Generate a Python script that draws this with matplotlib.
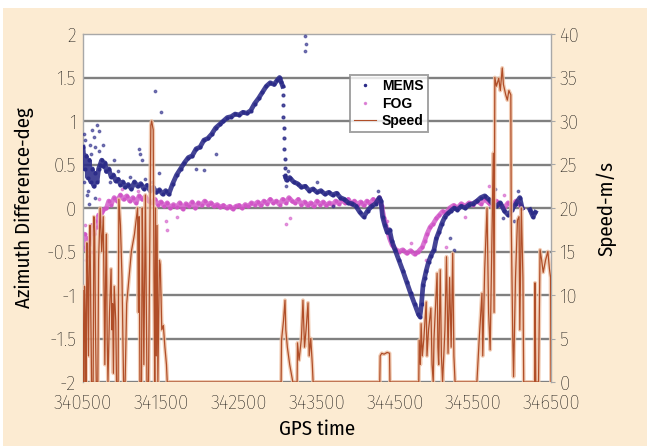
import matplotlib
matplotlib.use("Agg")
import matplotlib.pyplot as plt
from matplotlib.lines import Line2D
from matplotlib.patches import Rectangle

plt.rcParams['font.family'] = ['Fira Sans Condensed', 'Roboto Condensed', 'DejaVu Sans']
plt.rcParams['font.weight'] = 'light'

# ---- data -------------------------------------------------------------
mems_t = [340500, 340520, 340540, 340560, 340580, 340600, 340620, 340640, 340660, 340680,
          340700, 340720, 340740, 340760, 340780, 340800, 340830, 340860, 340890, 340920,
          340950, 340980, 341010, 341040, 341080, 341120, 341160, 341200, 341240, 341280,
          341320, 341360, 341400, 341440, 341480, 341520, 341560, 341600, 341650, 341700,
          341750, 341800, 341850, 341900, 341950, 342000, 342050, 342100, 342150, 342200,
          342250, 342300, 342350, 342400, 342450, 342500, 342550, 342600, 342650, 342700,
          342750, 342800, 342850, 342900, 342950, 342990, 343020, 343040, 343060]
mems_v = [0.70, 0.45, 0.60, 0.35, 0.55, 0.30, 0.45, 0.25, 0.40, 0.30,
          0.45, 0.50, 0.55, 0.48, 0.52, 0.42, 0.45, 0.36, 0.38, 0.31,
          0.33, 0.27, 0.30, 0.24, 0.27, 0.22, 0.30, 0.25, 0.28, 0.22,
          0.26, 0.20, 0.24, 0.18, 0.21, 0.16, 0.20, 0.16, 0.28, 0.38,
          0.45, 0.52, 0.58, 0.60, 0.68, 0.70, 0.78, 0.80, 0.85, 0.92,
          0.96, 1.00, 1.04, 1.05, 1.08, 1.07, 1.10, 1.09, 1.12, 1.20,
          1.26, 1.33, 1.40, 1.44, 1.42, 1.47, 1.50, 1.45, 1.40]

# the fast reset: sparse samples between the peak and the lower track
mems_drop_t = [343060, 343064, 343068, 343072, 343076, 343080, 343084, 343088, 343092]
mems_drop_v = [1.30, 1.18, 1.05, 0.92, 0.80, 0.68, 0.56, 0.46, 0.38]

mems_b_t = [343095, 343110, 343150, 343200, 343250, 343300, 343350, 343400, 343450,
            343500, 343550, 343600, 343650, 343700, 343750, 343800, 343850, 343900, 343950,
            344000, 344050, 344100, 344150, 344200, 344250, 344300, 344320, 344340, 344370,
            344400, 344430, 344460, 344500, 344550, 344600, 344650, 344700, 344750, 344800,
            344820, 344840, 344860, 344880, 344900, 344930, 344960, 345000, 345030, 345060,
            345100, 345140, 345180, 345220, 345260, 345300, 345350, 345400, 345450, 345500,
            345550, 345600, 345650, 345700, 345750, 345800, 345850, 345900, 345950, 346000,
            346050, 346100, 346130]
mems_b_v = [0.36, 0.32, 0.35, 0.30, 0.28, 0.24, 0.25, 0.20, 0.22,
            0.18, 0.20, 0.16, 0.18, 0.15, 0.17, 0.12, 0.10, 0.06, 0.05,
            0.02, -0.05, -0.10, -0.03, 0.02, 0.05, 0.12, 0.08, -0.10, -0.20,
            -0.28, -0.25, -0.38, -0.48, -0.60, -0.72, -0.85, -0.98, -1.10, -1.22,
            -1.25, -1.10, -0.88, -0.80, -0.72, -0.62, -0.55, -0.48, -0.35, -0.28,
            -0.18, -0.10, -0.06, -0.03, 0.00, -0.02, 0.02, 0.00, 0.04, 0.05,
            0.08, 0.12, 0.14, 0.10, 0.05, 0.02, 0.06, -0.03, -0.08, -0.02,
            0.05, 0.12, 0.00]

# short MEMS run after the data gap near the end
mems_tail_t = [346230, 346250, 346270, 346300]
mems_tail_v = [-0.02, -0.06, -0.10, -0.05]

# isolated MEMS samples away from the main track
mems_out_t = [340510, 340530, 340560, 340580, 340600, 340620, 340640, 340660, 340680, 340700,
              340760, 340900, 341220, 341230, 341250, 341420, 341500, 341480, 341950, 342050,
              342200, 343350, 343355, 343350, 343700, 345200, 345250,
              340515, 340545, 340590, 340650, 340710, 340850, 340950, 341100, 341300, 341380,
              343100, 343130, 343500, 344280, 345780, 345880, 346020, 346080]
mems_out_v = [0.85, 0.78, 0.20, 0.05, 0.62, 0.90, 0.82, 0.70, 0.95, 0.88,
              0.72, 0.55, 0.68, 0.62, 0.55, 1.35, 1.10, 0.40, 0.45, 0.44,
              0.62, 1.98, 1.88, 1.80, 0.02, -0.35, -0.48,
              0.30, 0.15, 0.72, 0.12, 0.65, 0.30, 0.42, 0.36, 0.33, 0.30,
              0.25, 0.42, 0.30, 0.20, 0.22, -0.12, -0.15, 0.20]

fog_t = [340500, 340520, 340540, 340560, 340580, 340600, 340620, 340640, 340660, 340680,
         340700, 340720, 340740, 340760, 340800, 340830, 340860, 340900, 340940, 340980,
         341020, 341060, 341100, 341140, 341180, 341220, 341260, 341300, 341340, 341380,
         341420, 341460, 341500, 341540, 341580, 341620, 341660, 341700, 341740, 341780,
         341820, 341860, 341900, 341940, 341980, 342020, 342060, 342100, 342140, 342180,
         342220, 342260, 342300, 342340, 342380, 342420, 342460, 342500, 342540, 342580,
         342620, 342660, 342700, 342740, 342780, 342820, 342860, 342900, 342940, 342980,
         343020, 343060, 343100, 343140, 343180, 343220, 343260, 343300, 343340, 343380,
         343420, 343460, 343500, 343540, 343580, 343620, 343660, 343700, 343740, 343780,
         343820, 343860, 343900, 343940, 343980, 344020, 344060, 344100, 344140, 344180,
         344220, 344260, 344300, 344330, 344360, 344400, 344430, 344460, 344500, 344550,
         344600, 344650, 344700, 344750, 344800, 344850, 344880, 344910, 344950, 344990,
         345030, 345070, 345110, 345150, 345200, 345250, 345300, 345350, 345400, 345450,
         345500, 345550, 345600, 345650, 345700, 345750, 345800, 345850, 345900, 345950,
         346000, 346050, 346100, 346130]
fog_v = [-0.45, -0.30, -0.48, -0.35, -0.42, -0.28, -0.20, -0.30, -0.15, -0.22,
         -0.08, -0.15, -0.05, -0.02, 0.00, 0.08, 0.04, 0.12, 0.08, 0.15,
         0.10, 0.14, 0.08, 0.12, 0.06, 0.14, 0.10, 0.13, 0.08, 0.06,
         0.10, 0.04, 0.07, 0.02, 0.06, 0.00, 0.04, 0.01, 0.06, -0.01,
         0.05, 0.02, 0.07, 0.00, 0.06, 0.03, 0.08, 0.04, 0.06, 0.02,
         0.04, 0.01, 0.03, 0.00, 0.02, -0.01, 0.02, 0.03, 0.00, 0.04,
         0.02, 0.06, 0.04, 0.07, 0.03, 0.08, 0.05, 0.10, 0.06, 0.08,
         0.04, 0.10, 0.06, 0.12, 0.08, 0.06, 0.10, 0.04, 0.07, 0.03,
         0.06, 0.02, 0.08, 0.04, 0.07, 0.03, 0.06, 0.04, 0.08, 0.05,
         0.09, 0.06, 0.10, 0.05, 0.08, 0.04, 0.07, 0.03, 0.08, 0.05,
         0.10, 0.06, 0.12, 0.02, -0.12, -0.25, -0.35, -0.42, -0.47, -0.50,
         -0.48, -0.52, -0.49, -0.53, -0.50, -0.45, -0.38, -0.30, -0.22, -0.18,
         -0.12, -0.08, -0.04, -0.06, 0.00, 0.03, 0.00, 0.05, 0.02, 0.06,
         0.04, 0.08, 0.05, 0.10, 0.06, 0.02, 0.08, 0.04, 0.00, 0.06,
         0.02, 0.08, 0.04, 0.00]

fog_out_t = [340540, 340580, 341560, 341580, 341700, 343100, 343150, 344900, 345150, 345400,
             345700, 345900, 340520, 340610, 340700, 341000, 341200, 344400, 344700, 345050]
fog_out_v = [-0.60, -0.55, -0.15, -0.25, -0.10, -0.18, -0.12, -0.60, -0.45, -0.10,
             0.25, 0.15, -0.20, -0.50, 0.10, 0.22, 0.20, -0.15, -0.40, -0.30]

speed_t = [340500, 340505, 340515, 340520, 340530, 340540, 340550, 340560, 340570, 340580,
           340590, 340600, 340610, 340630, 340640, 340650, 340660, 340670, 340690, 340700,
           340720, 340740, 340760, 340770, 340780, 340790, 340800, 340810, 340820, 340840,
           340860, 340870, 340880, 340890, 340900, 340920, 340930, 340950, 340960, 340980,
           341000, 341010, 341020, 341040, 341060, 341080, 341100, 341120, 341140, 341160,
           341180, 341200, 341210, 341220, 341230, 341250, 341260, 341270, 341280, 341300,
           341310, 341320, 341340, 341370, 341380, 341400, 341410, 341420, 341430, 341440,
           341450, 341460, 341480, 341490, 341500, 341510, 341530, 341550, 341570, 341580,
           343040, 343045, 343070, 343090, 343100, 343120, 343150, 343190, 343245, 343250,
           343270, 343300, 343320, 343340, 343360, 343385, 343400, 343420, 343440, 343450,
           344305, 344310, 344330, 344360, 344400, 344430, 344435, 344805, 344810, 344825,
           344835, 344850, 344870, 344900, 344910, 344930, 344960, 344975, 344990, 345000,
           345040, 345050, 345060, 345080, 345095, 345110, 345140, 345160, 345180, 345200,
           345220, 345240, 345255, 345270, 345550, 345580, 345615, 345625, 345650, 345680,
           345700, 345720, 345740, 345760, 345770, 345780, 345800, 345830, 345850, 345875,
           345890, 345920, 345940, 345960, 345985, 345990, 346010, 346020, 346045, 346070,
           346090, 346100, 346120, 346140, 346150, 346290, 346295, 346305, 346340, 346360,
           346380, 346400, 346430, 346460, 346480, 346495, 346500]
speed_v = [10.5, 0, 0, 11, 7, 0, 16, 12, 3, 15,
           18, 8, 0, 0, 19, 17, 6, 0, 0, 14,
           20, 15, 19, 10, 2, 12, 17, 5, 0, 8,
           13, 6, 9, 1, 11, 7, 0, 0, 21, 18,
           12, 6, 0, 0, 9, 11, 13, 15, 16, 17,
           18.5, 20, 8, 19, 0, 0, 20, 12, 2, 21.5,
           11, 0, 0, 29.5, 30, 29, 12, 0, 20, 3,
           18, 0, 14, 13.5, 10, 6, 6.5, 4, 2, 0,
           0, 4.8, 7, 9.4, 6, 4, 2, 0, 0, 4.5,
           2.5, 5, 9.4, 4, 6, 9.1, 3, 5, 2, 0,
           0, 3.0, 3.3, 3.2, 3.4, 3.3, 0, 0, 4.8, 2,
           6.7, 3, 5, 9.2, 3, 6, 8.5, 2, 0, 5,
           12.5, 4, 2, 12.9, 3, 0, 6, 14.4, 3.3, 12,
           4, 14.8, 3, 0, 0, 5, 10.2, 3, 13, 20,
           8, 3.7, 15, 26.3, 8, 35, 34, 34.9, 33.5, 36.1,
           34.2, 33, 32.4, 33.5, 33, 18.6, 5, 0.6, 12, 18.6,
           19, 6, 20, 12, 0, 0, 11.4, 0, 0, 15.2,
           14, 12.6, 14, 15, 13, 12, 0]

x_ticks = [340500, 341500, 342500, 343500, 344500, 345500, 346500]
left_ticks = [-2, -1.5, -1, -0.5, 0, 0.5, 1, 1.5, 2]
left_labels = ['-2', '-1.5', '-1', '-0.5', '0', '0.5', '1', '1.5', '2']
right_ticks = [0, 5, 10, 15, 20, 25, 30, 35, 40]

# ---- styling ----------------------------------------------------------
cream = '#FCEBD2'
navy = '#2B2B88'
magenta = '#D052C6'
brown = '#B04E28'
halo = '#EFC4A8'
grid_col = '#808080'
text_col = '#000000'

fig = plt.figure(figsize=(6.47, 4.46), dpi=100)
fig.patch.set_facecolor('white')
fig.patches.append(Rectangle((3 / 647, 0), 1, 1 - 8 / 446, transform=fig.transFigure,
                             facecolor=cream, edgecolor='none', zorder=-10))

ax = fig.add_axes([83 / 647, 1 - 382 / 446, 468 / 647, 348 / 446])
ax.set_facecolor('white')
ax.set_xlim(340500, 346500)
ax.set_ylim(-2, 2)
ax.set_xticks(x_ticks)
ax.set_xticklabels([str(v) for v in x_ticks])
ax.set_yticks(left_ticks)
ax.set_yticklabels(left_labels)
for v in left_ticks[:-1]:
    ax.axhline(v, color=grid_col, lw=1.7, zorder=0.5)
for side in ['left', 'right', 'top']:
    ax.spines[side].set_color('#A8A8A8')
    ax.spines[side].set_linewidth(1.0)
ax.spines['bottom'].set_visible(False)
ax.tick_params(axis='both', length=0, labelsize=15, colors=text_col, pad=5)
ax.tick_params(axis='x', pad=8)

# main tracks drawn as dense dotted bands
ax.plot(fog_t, fog_v, color=magenta, lw=3.4, alpha=0.8, marker='.', ms=4,
        zorder=2, solid_joinstyle='round')
for tt, vv in [(mems_t, mems_v), (mems_b_t, mems_b_v), (mems_tail_t, mems_tail_v)]:
    ax.plot(tt, vv, color=navy, lw=3.4, alpha=0.88, marker='.', ms=4,
            zorder=3, solid_joinstyle='round')
ax.plot(mems_drop_t, mems_drop_v, ls='none', marker='.', ms=4, color=navy, alpha=0.8, zorder=3)
ax.plot(mems_out_t, mems_out_v, ls='none', marker='.', ms=3.5, color=navy, alpha=0.6, zorder=3)
ax.plot(fog_out_t, fog_out_v, ls='none', marker='.', ms=3.5, color=magenta, alpha=0.55, zorder=2)

ax.set_ylabel('Azimuth Difference-deg', fontsize=15, color=text_col, labelpad=9)
ax.set_xlabel('GPS time', fontsize=15, color=text_col, labelpad=5)

ax2 = ax.twinx()
ax2.set_ylim(0, 40)
ax2.set_yticks(right_ticks)
ax2.set_yticklabels([str(v) for v in right_ticks])
ax2.tick_params(axis='y', length=3, width=0.8, labelcolor=text_col, color='#A8A8A8',
                labelsize=15, pad=3)
for s in ax2.spines.values():
    s.set_visible(False)
ax2.plot(speed_t, speed_v, color=halo, lw=2.8, alpha=0.85, zorder=2)
ax2.plot(speed_t, speed_v, color=brown, lw=0.9, zorder=3)
ax2.set_ylabel('Speed-m/s', fontsize=15, color=text_col, labelpad=12)

handles = [
    Line2D([], [], ls='none', marker='.', ms=3, color=navy),
    Line2D([], [], ls='none', marker='.', ms=3, color=magenta, alpha=0.6),
    Line2D([], [], color=brown, lw=0.8),
]
leg = ax2.legend(handles, ['MEMS', 'FOG', 'Speed'], loc='upper left',
                 bbox_to_anchor=(267 / 468, 307 / 348), borderaxespad=0,
                 frameon=True, fancybox=False, handlelength=1.6, handletextpad=0.4,
                 labelspacing=0.25, borderpad=0.3,
                 prop={'family': ['Liberation Sans', 'DejaVu Sans'], 'weight': 'bold', 'size': 10})
leg.get_frame().set_edgecolor('#8C8C8C')
leg.get_frame().set_linewidth(1.4)
leg.get_frame().set_facecolor('white')

fig.savefig('out.png', dpi=100, facecolor=fig.get_facecolor())
